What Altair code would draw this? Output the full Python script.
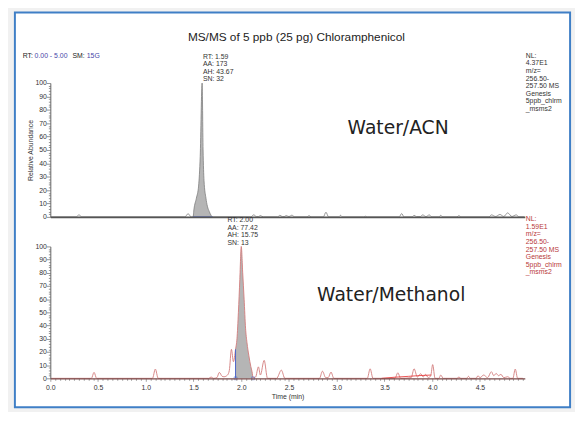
import altair as alt
import pandas as pd

# ---------------- data ----------------
# Water/ACN trace (time in min, relative abundance %)
top_points = [
    [0.00, 0], [0.27, 0], [0.30, 1.5], [0.33, 0],
    [1.41, 0], [1.443, 2.4], [1.475, 0],
    [1.495, 0], [1.505, 6], [1.53, 14], [1.553, 23], [1.57, 45], [1.59, 100],
    [1.60, 50], [1.61, 27], [1.63, 14], [1.645, 8], [1.665, 4], [1.685, 1], [1.70, 0],
    [2.10, 0], [2.13, 1.5], [2.16, 0.2], [2.18, 0.2], [2.20, 1.0], [2.23, 0],
    [2.38, 0], [2.405, 1.2], [2.43, 0.2], [2.45, 0.2], [2.47, 1.0], [2.50, 0.2], [2.53, 1.3], [2.56, 0],
    [2.69, 0], [2.71, 1.0], [2.73, 0],
    [2.86, 0], [2.887, 3.5], [2.915, 0],
    [3.02, 0], [3.04, 1.2], [3.06, 0],
    [3.28, 0], [3.30, 0.5], [3.32, 0],
    [3.655, 0], [3.68, 2.5], [3.705, 0],
    [3.79, 0], [3.81, 1.2], [3.835, 0.2], [3.875, 0.2], [3.90, 1.5], [3.935, 0.2], [3.97, 1.5], [3.995, 0],
    [4.07, 0], [4.09, 1.2], [4.11, 0],
    [4.26, 0], [4.28, 1.0], [4.30, 0],
    [4.595, 0], [4.62, 1.5], [4.665, 0.3], [4.71, 1.8], [4.75, 0.3], [4.79, 3.0], [4.835, 0.3],
    [4.88, 1.5], [4.91, 0], [4.965, 0],
]
top_window = [1.495, 1.70]          # integrated peak (RT 1.59)

# Water/Methanol trace
bottom_points = [
    [0.00, 0], [0.43, 0], [0.458, 4.5], [0.485, 0],
    [1.07, 0], [1.10, 7], [1.13, 0],
    [1.66, 0], [1.684, 1], [1.71, 0], [1.745, 0.5], [1.77, 4.5], [1.80, 1.5], [1.82, 1.2],
    [1.856, 2.5], [1.875, 6], [1.897, 22], [1.918, 12.6],
    [1.94, 22], [1.955, 30], [1.97, 50], [1.985, 75], [2.00, 100], [2.015, 80], [2.03, 60],
    [2.045, 38], [2.06, 27], [2.08, 17], [2.10, 9], [2.113, 5], [2.124, 0.5],
    [2.15, 1], [2.18, 8.7], [2.20, 2.5], [2.24, 13.6], [2.275, 0],
    [2.37, 0], [2.42, 6.2], [2.457, 0],
    [2.82, 0], [2.85, 5.4], [2.885, 0.5], [2.91, 0.5], [2.94, 4.7], [2.97, 0],
    [3.32, 0], [3.35, 7.2], [3.38, 0],
    [3.61, 0], [3.64, 4.2], [3.67, 0],
    [3.78, 0.5], [3.81, 7.2], [3.845, 1], [3.88, 3.5], [3.905, 1], [3.93, 3], [3.96, 0.5],
    [3.985, 2], [4.005, 10.4], [4.03, 0],
    [4.07, 0], [4.09, 2.5], [4.115, 0],
    [4.26, 0], [4.28, 1], [4.30, 0], [4.36, 0], [4.38, 1.5], [4.40, 0],
    [4.46, 0], [4.48, 2], [4.50, 0.5], [4.54, 2.5], [4.58, 0.5], [4.62, 5], [4.645, 2],
    [4.67, 3.7], [4.695, 2], [4.72, 3], [4.75, 0.5], [4.79, 1.2], [4.82, 0],
    [4.845, 0], [4.87, 7], [4.895, 0], [4.95, 0],
]
bottom_window = [1.94, 2.124]       # integrated peak (RT 2.00)
bottom_window_left_height = 22
bottom_baseline_points = [[3.47, 0], [3.60, 0.8], [3.75, 1.5], [3.85, 2.0], [3.99, 2.5]]

y_ticks = list(range(0, 101, 2))
x_ticks = [round(i * 0.05, 2) for i in range(0, 100)]

top_peak_text = "RT: 1.59\nAA: 173\nAH: 43.67\nSN: 32"
bottom_peak_text = "RT: 2.00\nAA: 77.42\nAH: 15.75\nSN: 13"
top_nl_text = "NL:\n4.37E1\nm/z=\n256.50-\n257.50  MS\nGenesis\n5ppb_chlrm\n_msms2"
bottom_nl_text = "NL:\n1.59E1\nm/z=\n256.50-\n257.50  MS\nGenesis\n5ppb_chlrm\n_msms2"

# ---------------- frames ----------------
top_df = pd.DataFrame(top_points, columns=["t", "v"])
bot_df = pd.DataFrame(bottom_points, columns=["t", "v"])
bbase_df = pd.DataFrame(bottom_baseline_points, columns=["t", "v"])
top_win_df = pd.DataFrame({"t": [top_window[0]], "t2": [top_window[1]], "v": [0]})
bot_win_df = pd.DataFrame({"t": bottom_window, "v": [0, 0]})
bot_vline_df = pd.DataFrame({"t": [bottom_window[0]], "v": [0], "v2": [bottom_window_left_height]})

FONT = "Liberation Sans"
W = 482
H_TOP = 136
H_BOT = 134

xscale = alt.Scale(domain=[0, 4.97], nice=False, zero=False)
yscale = alt.Scale(domain=[0, 100], nice=False, zero=False)


def y_axis(title=None):
    kw = dict(
        values=y_ticks,
        labelExpr="datum.value % 10 === 0 ? datum.label : ''",
        tickSize={"condition": {"test": "datum.value % 10 === 0", "value": 4}, "value": 2},
        labelFontSize=7, labelFont=FONT, labelColor="#333", labelPadding=0,
        labelOverlap=False, labelFlush=False, labelBound=False,
        tickColor="#666", tickWidth=0.7, domainColor="#666", domainWidth=1,
        grid=False, zindex=1,
    )
    if title:
        kw.update(title=title, titleFontSize=7, titleFont=FONT, titleFontWeight="normal",
                  titleColor="#333", titlePadding=1)
    else:
        kw.update(title=None)
    return alt.Axis(**kw)


top_x_axis = alt.Axis(labels=False, ticks=False, domain=True, domainColor="#555",
                      domainWidth=1.6, grid=False, title=None, zindex=1)
bot_x_axis = alt.Axis(
    values=x_ticks,
    labelExpr="round(datum.value*100) % 50 === 0 ? format(datum.value, '.1f') : ''",
    tickSize={"condition": {"test": "round(datum.value*100) % 50 === 0", "value": 3}, "value": 2},
    labelFontSize=7, labelFont=FONT, labelColor="#333", labelPadding=2,
    labelOverlap=False, labelFlush=False, labelBound=False,
    tickColor="#777", tickWidth=0.7, domainColor="#7a4a4a", domainWidth=1.4,
    grid=False, title="Time (min)", titleFontSize=7, titleFont=FONT,
    titleFontWeight="normal", titleColor="#333", titlePadding=3, zindex=1,
)

top_yaxis = y_axis("Relative Abundance")
bot_yaxis = y_axis()


def tx(field="t"):
    return alt.X(f"{field}:Q", scale=xscale, axis=top_x_axis)


def ty(field="v"):
    return alt.Y(f"{field}:Q", scale=yscale, axis=top_yaxis)


def bx(field="t"):
    return alt.X(f"{field}:Q", scale=xscale, axis=bot_x_axis)


def by(field="v"):
    return alt.Y(f"{field}:Q", scale=yscale, axis=bot_yaxis)


def label(text, x, y, size=7, color="#333", align="left", baseline="top",
          font=FONT, lh=7.6):
    return alt.Chart(pd.DataFrame({"s": [text]})).mark_text(
        align=align, baseline=baseline, font=font, fontSize=size, color=color,
        lineBreak="\n", lineHeight=lh,
    ).encode(x=alt.value(x), y=alt.value(y), text="s:N")


# ---------------- top panel ----------------
box = alt.Chart(pd.DataFrame({"k": [0]})).mark_rect(
    fill="white", stroke="#3f7fc6", strokeWidth=2
).encode(x=alt.value(-36), x2=alt.value(528), y=alt.value(-71.7), y2=alt.value(329.3))

top_area = alt.Chart(top_df).transform_filter(
    f"datum.t >= {top_window[0]} && datum.t <= {top_window[1]}"
).mark_area(color="#b5b5b5", interpolate="monotone").encode(x=tx(), y=ty())

top_line = alt.Chart(top_df).mark_line(
    color="#7d7d7d", strokeWidth=0.8, interpolate="monotone"
).encode(x=tx(), y=ty())

top_int = alt.Chart(top_win_df).mark_rule(color="#4c66c8", strokeWidth=1).encode(
    x=tx(), x2="t2:Q", y=ty())

top_layers = alt.layer(
    box, top_area, top_line, top_int,
    label("MS/MS of 5 ppb (25 pg) Chloramphenicol", 250, -46.7, size=12,
          color="#222", align="center", baseline="middle"),
    label("RT:", -28, -27.7, size=7, color="#222", baseline="middle"),
    label("0.00 - 5.00", -16, -27.7, size=7, color="#4747a8", baseline="middle"),
    label("SM:", 22.5, -27.7, size=7, color="#222", baseline="middle"),
    label("15G", 37, -27.7, size=7, color="#4747a8", baseline="middle"),
    label(top_peak_text, 155, -30.5),
    label(top_nl_text, 483, -31.5, lh=7.7),
    label("Water/ACN", 302, 46, size=19, color="#222", font="DejaVu Sans",
          baseline="middle"),
).properties(width=W, height=H_TOP)

# ---------------- bottom panel ----------------
bot_area = alt.Chart(bot_df).transform_filter(
    f"datum.t >= {bottom_window[0]} && datum.t <= {bottom_window[1]}"
).mark_area(color="#b5b5b5", interpolate="monotone").encode(x=bx(), y=by())

bot_line = alt.Chart(bot_df).mark_line(
    color="#d27a7a", strokeWidth=0.9, interpolate="monotone"
).encode(x=bx(), y=by())

bot_base = alt.Chart(bbase_df).mark_line(color="#e84040", strokeWidth=0.9).encode(
    x=bx(), y=by())

bot_vline = alt.Chart(bot_vline_df).mark_rule(color="#4c66c8", strokeWidth=1).encode(
    x=bx(), y=by(), y2="v2:Q")

bot_marks = alt.Chart(bot_win_df).mark_square(
    size=8, filled=False, color="#4c66c8", strokeWidth=0.8
).encode(x=bx(), y=by())

bot_layers = alt.layer(
    bot_area, bot_line, bot_base, bot_vline, bot_marks,
    label(bottom_peak_text, 180, -30.5),
    label(bottom_nl_text, 483, -31.5, color="#b8383a", lh=7.7),
    label("Water/Methanol", 271, 49.3, size=19, color="#222", font="DejaVu Sans",
          baseline="middle"),
).properties(width=W, height=H_BOT)

chart = alt.vconcat(top_layers, bot_layers, spacing=30, bounds="flush").properties(
    padding={"left": 6, "top": 0, "right": 4, "bottom": 0},
    background="#f1f1f1",
).configure_view(strokeWidth=0)

chart.save("out.html", embed_options={"renderer": "svg", "actions": False})
